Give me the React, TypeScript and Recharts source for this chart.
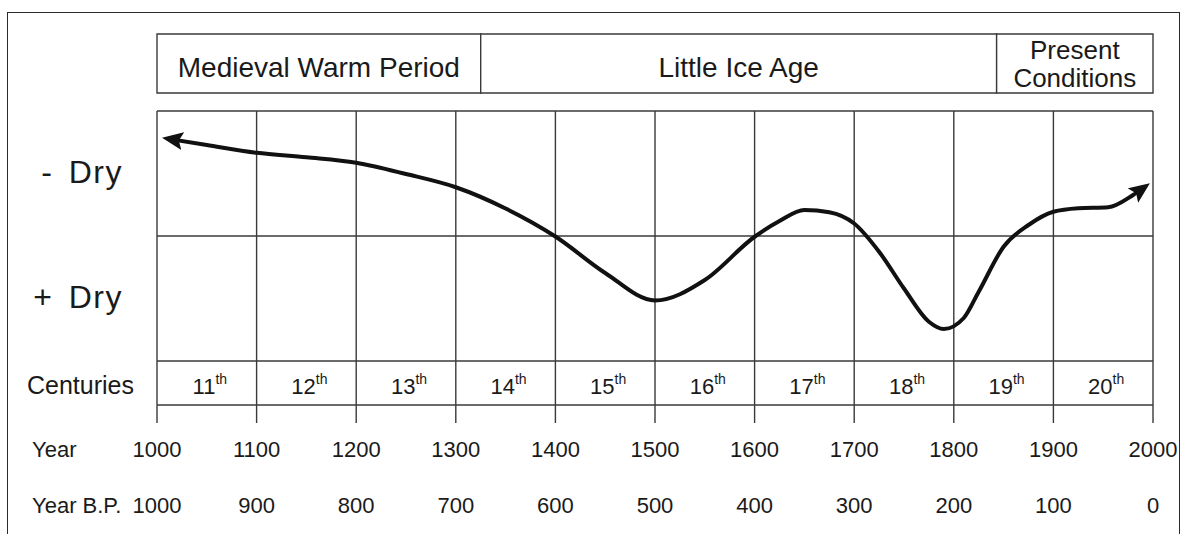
import { LineChart, Line, XAxis, YAxis, CartesianGrid, ReferenceArea } from "recharts";

// x: calendar year, y: dryness index (0 = wettest edge of the grid, 10 = driest edge)
const years = [1000, 1100, 1200, 1300, 1400, 1500, 1600, 1700, 1800, 1900, 2000];
const yearsBP = [1000, 900, 800, 700, 600, 500, 400, 300, 200, 100, 0];
const centuryMids = [1050, 1150, 1250, 1350, 1450, 1550, 1650, 1750, 1850, 1950];
const centuryNames = ["11", "12", "13", "14", "15", "16", "17", "18", "19", "20"];
const dryTicks = [2.5, 7.5];
const dryNames = ["+ Dry", "- Dry"];
const gridLevels = [0, 5, 10];

const periodNames = [["Medieval Warm Period"], ["Little Ice Age"], ["Present", "Conditions"]];
const periodStart = [1000, 1325, 1843];
const periodEnd = [1325, 1843, 2000];

const curveYears = [
  1011, 1050, 1100, 1150, 1200, 1250, 1300, 1350, 1400, 1450, 1500, 1550, 1600, 1625, 1650, 1675,
  1700, 1725, 1750, 1775, 1790, 1810, 1825, 1850, 1875, 1900, 1925, 1955, 1980, 1992,
];
const curveValues = [
  8.89, 8.64, 8.33, 8.15, 7.93, 7.48, 6.95, 6.1, 4.98, 3.52, 2.42, 3.24, 4.97, 5.6, 6.04, 5.95,
  5.5, 4.37, 2.9, 1.57, 1.28, 1.72, 2.77, 4.57, 5.44, 5.97, 6.11, 6.15, 6.64, 6.97,
];

const curve = curveYears.map((year, i) => ({ year, value: curveValues[i] }));

const FONT = '"Liberation Sans", Arial, sans-serif';
const INK = "#1a1a1a";
const GRID = "#3a3a3a";
const LEFT_X = 27;
const BAND: [number, number] = [10.72, 13.08];

function DryTick({ x, y, payload }: any) {
  const i = dryTicks.indexOf(payload.value);
  return (
    <text
      x={x}
      y={y + 9}
      textAnchor="end"
      fontSize={32}
      letterSpacing={1.5}
      wordSpacing={5}
      fill={INK}
      fontFamily={FONT}
    >
      {dryNames[i]}
    </text>
  );
}

function CenturyTick({ x, y, payload }: any) {
  const i = centuryMids.indexOf(payload.value);
  return (
    <g fontFamily={FONT} fill={INK}>
      {i === 0 && (
        <text x={LEFT_X} y={y + 33} fontSize={25}>
          Centuries
        </text>
      )}
      <text x={x + 3} y={y + 33} textAnchor="middle" fontSize={22}>
        {centuryNames[i]}
        <tspan dy={-10} fontSize={14}>
          th
        </tspan>
      </text>
    </g>
  );
}

function YearTick({ x, y, payload }: any) {
  const i = years.indexOf(payload.value);
  return (
    <g fontFamily={FONT} fill={INK} fontSize={22}>
      <line x1={x} x2={x} y1={y - 62} y2={y - 18} stroke={GRID} strokeWidth={1.4} />
      {i === 0 && (
        <>
          <text x={LEFT_X + 5} y={y + 34}>Year</text>
          <text x={LEFT_X + 5} y={y + 90}>Year B.P.</text>
        </>
      )}
      <text x={x} y={y + 34} textAnchor="middle">
        {payload.value}
      </text>
      <text x={x} y={y + 90} textAnchor="middle">
        {yearsBP[i]}
      </text>
    </g>
  );
}

function PeriodLabel({ viewBox, lines }: any) {
  const cx = viewBox.x + viewBox.width / 2;
  const cy = viewBox.y + viewBox.height / 2;
  const big = lines.length === 1;
  return (
    <text textAnchor="middle" fontFamily={FONT} fill={INK} fontSize={big ? 28 : 26}>
      {lines.map((t: string, k: number) => (
        <tspan key={t} x={cx} y={cy + (big ? 13 : 9) + (k - (lines.length - 1) / 2) * 28}>
          {t}
        </tspan>
      ))}
    </text>
  );
}

export default function App() {
  return (
    <div style={{ position: "fixed", left: 0, top: 0, width: 1187, height: 534, overflow: "hidden", background: "#fff" }}>
      <div
        style={{
          position: "absolute",
          left: 7,
          top: 12,
          width: 1173,
          height: 600,
          border: "1.5px solid #2a2a2a",
          boxSizing: "border-box",
        }}
      />
      <div style={{ position: "absolute", left: 0, top: 0 }}>
        <LineChart width={1187} height={534} data={curve} margin={{ top: 111, right: 34, left: 7, bottom: 0 }}>
          <defs>
            <marker
              id="arrowHead"
              viewBox="0 0 21 18"
              refX={15}
              refY={9}
              markerWidth={21}
              markerHeight={18}
              markerUnits="userSpaceOnUse"
              orient="auto-start-reverse"
            >
              <path d="M0,0 L21,9 L0,18 L4,9 Z" fill="#111" />
            </marker>
          </defs>
          <CartesianGrid
            xAxisId="year"
            stroke={GRID}
            strokeWidth={1.4}
            horizontalValues={gridLevels}
            verticalValues={years}
          />
          <YAxis
            type="number"
            domain={[0, 10]}
            ticks={dryTicks}
            interval={0}
            width={150}
            axisLine={false}
            tickLine={false}
            tickSize={0}
            tickMargin={34}
            tick={<DryTick />}
          />
          <XAxis
            xAxisId="cent"
            dataKey="year"
            type="number"
            domain={[1000, 2000]}
            ticks={centuryMids}
            interval={0}
            height={44}
            axisLine={false}
            tickLine={false}
            tickSize={0}
            tickMargin={0}
            tick={<CenturyTick />}
          />
          <XAxis
            xAxisId="year"
            dataKey="year"
            type="number"
            domain={[1000, 2000]}
            ticks={years}
            interval={0}
            height={129}
            stroke={GRID}
            strokeWidth={1.4}
            tickSize={18}
            tickMargin={0}
            tick={<YearTick />}
          />
          {periodNames.map((lines, i) => (
            <ReferenceArea
              key={lines.join(" ")}
              xAxisId="year"
              x1={periodStart[i]}
              x2={periodEnd[i]}
              y1={BAND[0]}
              y2={BAND[1]}
              ifOverflow="visible"
              fill="#fff"
              fillOpacity={1}
              stroke={GRID}
              strokeWidth={1.4}
              label={<PeriodLabel lines={lines} />}
            />
          ))}
          <Line
            xAxisId="year"
            dataKey="value"
            type="monotone"
            stroke="#111"
            strokeWidth={4}
            dot={false}
            activeDot={false}
            isAnimationActive={false}
            markerStart="url(#arrowHead)"
            markerEnd="url(#arrowHead)"
          />
        </LineChart>
      </div>
    </div>
  );
}
